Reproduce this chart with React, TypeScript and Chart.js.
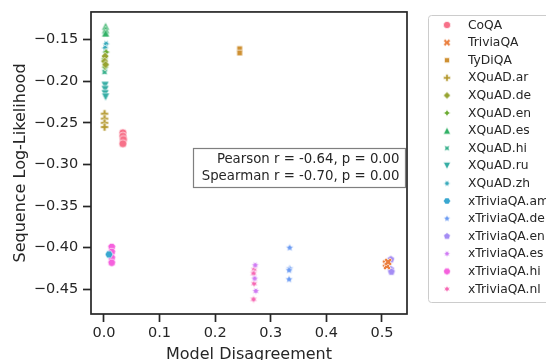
import React, { useEffect, useRef } from 'react';
import { Chart, registerables } from 'chart.js';

Chart.register(...registerables);

// ---------- data ----------
const SERIES_NAMES = [
  'CoQA', 'TriviaQA', 'TyDiQA', 'XQuAD.ar', 'XQuAD.de', 'XQuAD.en', 'XQuAD.es', 'XQuAD.hi',
  'XQuAD.ru', 'XQuAD.zh', 'xTriviaQA.am', 'xTriviaQA.de', 'xTriviaQA.en', 'xTriviaQA.es',
  'xTriviaQA.hi', 'xTriviaQA.nl',
];

const coqaX = [0.034, 0.034, 0.035, 0.034];
const coqaY = [-0.262, -0.266, -0.270, -0.275];
const triviaX = [0.507, 0.509, 0.511];
const triviaY = [-0.419, -0.422, -0.417];
const tydiX = [0.244, 0.244];
const tydiY = [-0.161, -0.166];
const xqArX = [0.001, 0.001, 0.001, 0.001];
const xqArY = [-0.239, -0.245, -0.250, -0.255];
const xqDeX = [0.002, 0.001, 0.003];
const xqDeY = [-0.170, -0.176, -0.180];
const xqEnX = [0.004, 0.001, 0.002];
const xqEnY = [-0.165, -0.173, -0.183];
const xqEsX = [0.003, 0.003, 0.003];
const xqEsY = [-0.134, -0.138, -0.142];
const xqHiX = [0.002, 0.002, 0.001];
const xqHiY = [-0.181, -0.185, -0.189];
const xqRuX = [0.002, 0.002, 0.002, 0.003];
const xqRuY = [-0.205, -0.210, -0.215, -0.219];
const xqZhX = [0.003, 0.004, 0.002, 0.003];
const xqZhY = [-0.143, -0.155, -0.160, -0.165];
const xtAmX = [0.009];
const xtAmY = [-0.408];
const xtDeX = [0.334, 0.334, 0.333, 0.333];
const xtDeY = [-0.400, -0.425, -0.427, -0.438];
const xtEnX = [0.516, 0.516, 0.517];
const xtEnY = [-0.414, -0.426, -0.429];
const xtEsX = [0.272, 0.271, 0.273];
const xtEsY = [-0.421, -0.437, -0.452];
const xtHiX = [0.014, 0.014, 0.014, 0.014];
const xtHiY = [-0.399, -0.405, -0.412, -0.418];
const xtNlX = [0.270, 0.269, 0.270, 0.269];
const xtNlY = [-0.426, -0.431, -0.443, -0.462];

const SERIES_X = [coqaX, triviaX, tydiX, xqArX, xqDeX, xqEnX, xqEsX, xqHiX, xqRuX, xqZhX, xtAmX, xtDeX, xtEnX, xtEsX, xtHiX, xtNlX];
const SERIES_Y = [coqaY, triviaY, tydiY, xqArY, xqDeY, xqEnY, xqEsY, xqHiY, xqRuY, xqZhY, xtAmY, xtDeY, xtEnY, xtEsY, xtHiY, xtNlY];

const X_TICKS = [0, 0.1, 0.2, 0.3, 0.4, 0.5];
const Y_TICKS = [-0.45, -0.40, -0.35, -0.30, -0.25, -0.20, -0.15];
const X_TITLE = 'Model Disagreement';
const Y_TITLE = 'Sequence Log-Likelihood';
const STAT_LINES = ['Pearson r = -0.64, p = 0.00', 'Spearman r = -0.70, p = 0.00'];

// ---------- styles ----------
const COLORS = [
  '#f77189', '#ea7d3c', '#ce9032', '#b59a31', '#97a431', '#6bab31', '#32b166', '#34af8a',
  '#36ada4', '#37aabb', '#39a7d0', '#6b9bf3', '#a48cf4', '#cf7af4', '#f561dd', '#f667b3',
];
// [kind, sides, rotation]
const MARKERS: [string, number, number][] = [
  ['circle', 0, 0], ['X', 0, 0], ['poly', 4, 45], ['P', 0, 0], ['poly', 4, 0], ['star', 4, 0],
  ['triUp', 0, 0], ['star', 4, 45], ['triDown', 0, 0], ['star', 6, 30], ['poly', 6, 30],
  ['star', 5, 0], ['poly', 5, 0], ['star', 7, 360 / 7 / 2], ['poly', 7, 360 / 7 / 2], ['star', 6, 0],
];

const TEXT = '#262626';
const FONT = '"DejaVu Sans", sans-serif';
const X_MIN = -0.0233;
const X_MAX = 0.545;
const Y_MIN = -0.4796;
const Y_MAX = -0.1168;

function markerPath(ctx: CanvasRenderingContext2D, spec: [string, number, number], r: number) {
  const [kind, n, rot] = spec;
  ctx.beginPath();
  const polyFrom = (pts: number[][], s: number) => {
    pts.forEach((p, i) => (i === 0 ? ctx.moveTo(p[0] * s, -p[1] * s) : ctx.lineTo(p[0] * s, -p[1] * s)));
    ctx.closePath();
  };
  if (kind === 'circle') {
    ctx.arc(0, 0, r, 0, Math.PI * 2);
  } else if (kind === 'X') {
    polyFrom([[-1, -2], [0, -1], [1, -2], [2, -1], [1, 0], [2, 1], [1, 2], [0, 1], [-1, 2], [-2, 1], [-1, 0], [-2, -1]], r / 2);
  } else if (kind === 'P') {
    polyFrom([[-1, -3], [1, -3], [1, -1], [3, -1], [3, 1], [1, 1], [1, 3], [-1, 3], [-1, 1], [-3, 1], [-3, -1], [-1, -1]], r / 3);
  } else if (kind === 'triUp') {
    polyFrom([[0, 1], [-1, -1], [1, -1]], r);
  } else if (kind === 'triDown') {
    polyFrom([[0, -1], [-1, 1], [1, 1]], r);
  } else if (kind === 'poly') {
    const pts: number[][] = [];
    for (let k = 0; k < n; k++) {
      const a = (2 * Math.PI * k) / n + Math.PI / 2 + (rot * Math.PI) / 180;
      pts.push([Math.cos(a), Math.sin(a)]);
    }
    polyFrom(pts, r);
  } else if (kind === 'star') {
    const pts: number[][] = [];
    for (let k = 0; k < 2 * n; k++) {
      const a = (Math.PI * k) / n + Math.PI / 2 + (rot * Math.PI) / 180;
      const rr = k % 2 === 0 ? 1 : 0.5;
      pts.push([rr * Math.cos(a), rr * Math.sin(a)]);
    }
    polyFrom(pts, r);
  }
}

function makeMarker(spec: [string, number, number], color: string, r: number): HTMLCanvasElement {
  const c = document.createElement('canvas');
  const dim = Math.ceil(2 * r + 4);
  c.width = dim;
  c.height = dim;
  const ctx = c.getContext('2d')!;
  ctx.translate(dim / 2, dim / 2);
  markerPath(ctx, spec, r);
  ctx.fillStyle = color;
  ctx.fill();
  ctx.strokeStyle = '#ffffff';
  ctx.lineWidth = 0.64;
  ctx.lineJoin = 'miter';
  ctx.stroke();
  return c;
}

export default function App() {
  const ref = useRef<HTMLCanvasElement | null>(null);

  useEffect(() => {
    if (!ref.current) return;
    const markers = MARKERS.map((m, i) => makeMarker(m, COLORS[i], 4));
    const legendMarkers = MARKERS.map((m, i) => makeMarker(m, COLORS[i], 3.6));

    const datasets = SERIES_NAMES.map((name, i) => ({
      label: name,
      data: SERIES_X[i].map((x, j) => ({ x, y: SERIES_Y[i][j] })),
      pointStyle: markers[i] as any,
      pointRadius: 4,
      backgroundColor: COLORS[i],
      borderColor: COLORS[i],
      showLine: false,
    }));

    const decor = {
      id: 'decor',
      afterDraw(chart: any) {
        const ctx: CanvasRenderingContext2D = chart.ctx;
        const a = chart.chartArea;
        ctx.save();
        // frame
        ctx.strokeStyle = TEXT;
        ctx.lineWidth = 1.7;
        ctx.strokeRect(a.left, a.top, a.right - a.left, a.bottom - a.top);

        // axis titles
        ctx.fillStyle = TEXT;
        ctx.font = `16px ${FONT}`;
        ctx.textAlign = 'center';
        ctx.textBaseline = 'alphabetic';
        ctx.fillText(X_TITLE, (a.left + a.right) / 2, 358.5);
        ctx.save();
        ctx.translate(25, (a.top + a.bottom) / 2);
        ctx.rotate(-Math.PI / 2);
        ctx.fillText(Y_TITLE, 0, 0);
        ctx.restore();

        // stats box
        ctx.fillStyle = 'rgba(255,255,255,0.8)';
        ctx.fillRect(193.5, 148.5, 212, 39);
        ctx.strokeStyle = 'rgba(0,0,0,0.5)';
        ctx.lineWidth = 1.2;
        ctx.strokeRect(193.5, 148.5, 212, 39);
        ctx.fillStyle = TEXT;
        ctx.font = `13.3px ${FONT}`;
        ctx.textAlign = 'right';
        ctx.textBaseline = 'middle';
        ctx.fillText(STAT_LINES[0], 399.5, 159.5);
        ctx.fillText(STAT_LINES[1], 399.5, 176.5);

        // legend
        const lx = 428.5, ly = 15.5, lw = 200, lh = 287;
        ctx.beginPath();
        ctx.roundRect(lx, ly, lw, lh, 3);
        ctx.fillStyle = 'rgba(255,255,255,0.8)';
        ctx.fill();
        ctx.strokeStyle = '#cccccc';
        ctx.lineWidth = 1;
        ctx.stroke();
        ctx.font = `12.3px ${FONT}`;
        ctx.textAlign = 'left';
        ctx.textBaseline = 'middle';
        SERIES_NAMES.forEach((name, i) => {
          const y = 25 + i * 17.6;
          const m = legendMarkers[i];
          ctx.drawImage(m, 447 - m.width / 2, y - m.height / 2);
          ctx.fillStyle = TEXT;
          ctx.fillText(name, 468, y + 0.5);
        });
        ctx.restore();
      },
    };

    const tickFont = { family: FONT, size: 14.5 };
    const chart = new Chart(ref.current, {
      type: 'scatter',
      data: { datasets: datasets as any },
      options: {
        animation: false,
        responsive: false,
        devicePixelRatio: 1,
        events: [],
        layout: { padding: { left: 0, right: 139, top: 8, bottom: 0 } },
        plugins: { legend: { display: false }, tooltip: { enabled: false }, title: { display: false } },
        scales: {
          x: {
            type: 'linear',
            min: X_MIN,
            max: X_MAX,
            afterFit: (s: any) => { s.height = 46; },
            afterBuildTicks: (s: any) => { s.ticks = X_TICKS.map((v) => ({ value: v })); },
            ticks: {
              font: { ...tickFont, lineHeight: 1.2 },
              color: TEXT,
              padding: 3,
              maxRotation: 0,
              autoSkip: false,
              callback: (v: any) => Number(v).toFixed(1),
            },
            grid: { drawOnChartArea: false, drawTicks: true, tickLength: 8, tickWidth: 1.7, tickColor: TEXT, color: TEXT },
            border: { display: false },
          },
          y: {
            type: 'linear',
            min: Y_MIN,
            max: Y_MAX,
            afterFit: (s: any) => { s.width = 91; },
            afterBuildTicks: (s: any) => { s.ticks = Y_TICKS.map((v) => ({ value: v })); },
            ticks: {
              font: { ...tickFont, lineHeight: 1.0 },
              color: TEXT,
              padding: 4.7,
              autoSkip: false,
              callback: (v: any) => {
                const n = Number(v);
                return (n < 0 ? '\u2212' : '') + Math.abs(n).toFixed(2);
              },
            },
            grid: { drawOnChartArea: false, drawTicks: true, tickLength: 8, tickWidth: 1.7, tickColor: TEXT, color: TEXT },
            border: { display: false },
          },
        },
      },
      plugins: [decor],
    });
    return () => chart.destroy();
  }, []);

  return (
    <div style={{ position: 'fixed', left: 0, top: 0, width: 546, height: 360, background: '#fff' }}>
      <canvas ref={ref} width={546} height={360} style={{ display: 'block', width: 546, height: 360 }} />
    </div>
  );
}
